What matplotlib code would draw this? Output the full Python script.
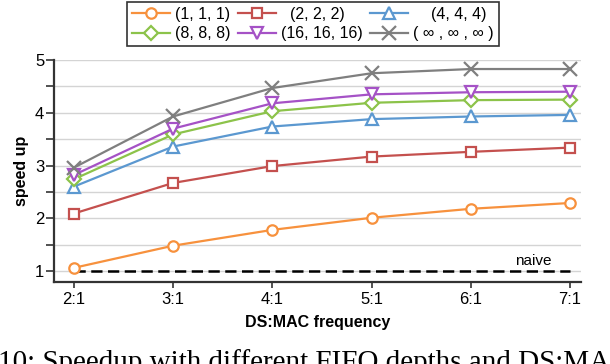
import matplotlib.pyplot as plt
import numpy as np

plt.rcParams["font.family"] = ["Liberation Sans", "DejaVu Sans"]

ratios = ["2:1", "3:1", "4:1", "5:1", "6:1", "7:1"]
labels = ["(1, 1, 1)", "  (2, 2, 2)", "    (4, 4, 4)",
          "(8, 8, 8)", "(16, 16, 16)", "( \u221e , \u221e , \u221e )"]
speedup_1 = [1.06, 1.48, 1.78, 2.01, 2.18, 2.29]
speedup_2 = [2.09, 2.67, 2.99, 3.17, 3.26, 3.34]
speedup_4 = [2.60, 3.36, 3.74, 3.88, 3.93, 3.96]
speedup_8 = [2.74, 3.59, 4.03, 4.19, 4.24, 4.25]
speedup_16 = [2.82, 3.70, 4.18, 4.35, 4.39, 4.40]
speedup_inf = [2.96, 3.93, 4.47, 4.75, 4.83, 4.83]
naive = [1, 1, 1, 1, 1, 1]

series = [speedup_1, speedup_2, speedup_4, speedup_8, speedup_16, speedup_inf]
colors = ["#F7913D", "#C4504E", "#5B98D0", "#8CC34A", "#A552C6", "#7F7F7F"]
markers = ["o", "s", "^", "D", "v", "x"]
sizes = [7.5, 7, 8.5, 7, 8.5, 9.5]

fig = plt.figure(figsize=(6.1, 3.64), dpi=100)
ax = fig.add_axes([0.0885, 0.225, 0.864, 0.61])

x = np.arange(len(ratios))
handles = []
for vals, lab, c, m, s in zip(series, labels, colors, markers, sizes):
    h, = ax.plot(x, vals, color=c, marker=m, markersize=s, markerfacecolor="white",
                 markeredgecolor=c, markeredgewidth=1.6, linewidth=1.6, label=lab,
                 zorder=3)
    handles.append(h)

ax.plot(x, naive, color="black", linestyle=(0, (4.5, 2.2)), linewidth=1.8, zorder=2)
ax.text(4.63, 1.11, "naive", fontsize=11, ha="center", va="baseline")

ax.set_xlim(-0.2, 5.11)
ax.set_ylim(0.79, 5.0)
ax.set_xticks(x)
ax.set_xticklabels(ratios)
ax.set_yticks([1, 2, 3, 4, 5])
ax.set_yticks(np.arange(1.5, 5, 1.0), minor=True)
ax.yaxis.grid(True, which="both", color="#d4d4d4", linewidth=1.0, zorder=0)
ax.set_axisbelow(True)
ax.tick_params(axis="both", which="both", direction="out", labelsize=12,
               color="#333333", width=1.2)
ax.tick_params(axis="y", which="both", length=6, pad=1)
ax.tick_params(axis="x", length=4, pad=3)
for side in ["top", "right"]:
    ax.spines[side].set_visible(False)
for side in ["left", "bottom"]:
    ax.spines[side].set_color("#333333")
    ax.spines[side].set_linewidth(1.6)

ax.set_ylabel("speed up", fontsize=11.5, fontweight="bold", labelpad=4)
ax.set_xlabel("DS:MAC frequency", fontsize=11.5, fontweight="bold", labelpad=6)

# legend fills column by column, so reorder to read row by row
order = [0, 3, 1, 4, 2, 5]
leg = fig.legend([handles[i] for i in order], [labels[i] for i in order],
                 loc="upper center", bbox_to_anchor=(0.513, 0.995), ncol=3,
                 fontsize=11.5, frameon=True, fancybox=False, edgecolor="black",
                 handlelength=2.4, handletextpad=0.3, columnspacing=0.45,
                 borderpad=0.3, labelspacing=0.3, borderaxespad=0)
leg.get_frame().set_linewidth(1.2)

fig.text(-0.004, 0.04, "10: Speedup with different FIFO depths and DS:MAC frequency ratios.",
         fontsize=21, family=["Liberation Serif", "DejaVu Serif"], ha="left", va="top")

fig.savefig("out.png", dpi=100)
